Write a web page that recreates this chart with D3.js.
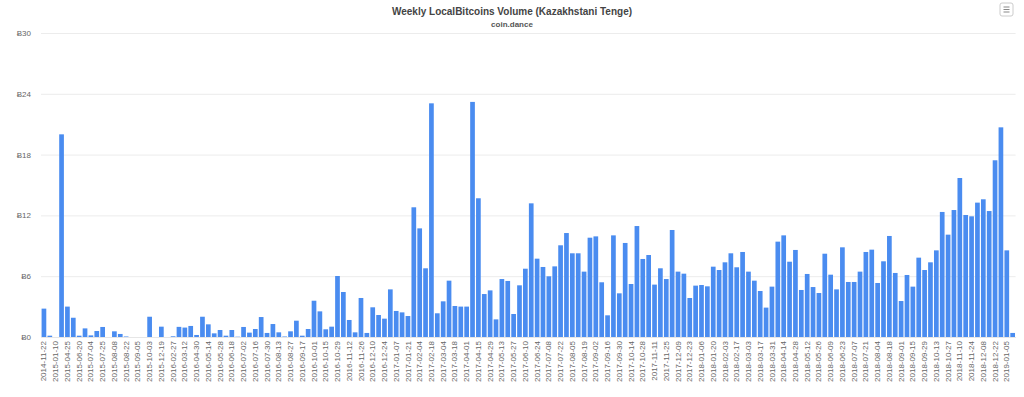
<!DOCTYPE html>
<html>
<head>
<meta charset="utf-8">
<script src="https://cdn.jsdelivr.net/npm/d3@7"></script>
<style>
  body { margin: 0; background: #fff; }
  svg { display: block; font-family: "Liberation Sans", Arial, sans-serif; }
  .axis text { fill: #666; font-size: 8px; }
</style>
</head>
<body>
<div id="chart"></div>
<script>
// weekly categories (only weeks with trades are listed)
const weeks = [
  "2014-11-22","2014-12-13","2015-01-10","2015-03-14","2015-04-25","2015-05-16","2015-06-20","2015-06-27",
  "2015-07-04","2015-07-11","2015-07-25","2015-08-01","2015-08-08","2015-08-15","2015-08-22","2015-08-29",
  "2015-09-05","2015-09-19","2015-10-03","2015-11-07","2015-12-19","2016-01-23","2016-02-27","2016-03-05",
  "2016-03-12","2016-04-02","2016-04-30","2016-05-07","2016-05-14","2016-05-21","2016-05-28","2016-06-04",
  "2016-06-18","2016-06-25","2016-07-02","2016-07-09","2016-07-16","2016-07-23","2016-07-30","2016-08-06",
  "2016-08-13","2016-08-20","2016-08-27","2016-09-10","2016-09-17","2016-09-24","2016-10-01","2016-10-08",
  "2016-10-15","2016-10-22",
  "2016-10-29","2016-11-05","2016-11-12","2016-11-19","2016-11-26","2016-12-03","2016-12-10","2016-12-17",
  "2016-12-24","2016-12-31",
  "2017-01-07","2017-01-14","2017-01-21","2017-01-28","2017-02-04","2017-02-11","2017-02-18","2017-02-25",
  "2017-03-04","2017-03-11","2017-03-18","2017-03-25","2017-04-01","2017-04-08","2017-04-15","2017-04-22",
  "2017-04-29","2017-05-06","2017-05-13","2017-05-20","2017-05-27","2017-06-03","2017-06-10","2017-06-17",
  "2017-06-24","2017-07-01","2017-07-08","2017-07-15","2017-07-22","2017-07-29","2017-08-05","2017-08-12",
  "2017-08-19","2017-08-26","2017-09-02","2017-09-09","2017-09-16","2017-09-23","2017-09-30","2017-10-07",
  "2017-10-14","2017-10-21","2017-10-28","2017-11-04","2017-11-11","2017-11-18","2017-11-25","2017-12-02",
  "2017-12-09","2017-12-16","2017-12-23","2017-12-30",
  "2018-01-06","2018-01-13","2018-01-20","2018-01-27","2018-02-03","2018-02-10","2018-02-17","2018-02-24",
  "2018-03-03","2018-03-10","2018-03-17","2018-03-24","2018-03-31","2018-04-07","2018-04-14","2018-04-21",
  "2018-04-28","2018-05-05","2018-05-12","2018-05-19","2018-05-26","2018-06-02","2018-06-09","2018-06-16",
  "2018-06-23","2018-06-30","2018-07-07","2018-07-14","2018-07-21","2018-07-28","2018-08-04","2018-08-11",
  "2018-08-18","2018-08-25","2018-09-01","2018-09-08","2018-09-15","2018-09-22","2018-09-29","2018-10-06",
  "2018-10-13","2018-10-20","2018-10-27","2018-11-03","2018-11-10","2018-11-17","2018-11-24","2018-12-01",
  "2018-12-08","2018-12-15","2018-12-22","2018-12-29",
  "2019-01-05","2019-01-12"
];

// volume per week
const volume = [
  2.8, 0.13, 0, 20.0, 3.0, 1.9, 0.13, 0.85, 0.16, 0.59, 0.99, 0, 0.56, 0.3, 0.05, 0,
  0, 0, 2.0, 0, 1.02, 0, 0.07, 1.0, 0.93, 1.09, 0.2, 2.0, 1.25, 0.36, 0.69, 0.13,
  0.69, 0.03, 0.99, 0.43, 0.79, 1.97, 0.4, 1.28, 0.46, 0.05, 0.56, 1.61, 0.13, 0.79, 3.58, 2.53,
  0.76, 1.02,
  6.02, 4.44, 1.68, 0.46, 3.85, 0.4, 2.93, 2.17, 1.81, 4.7,
  2.57, 2.43, 2.07, 12.8, 10.72, 6.78, 23.06, 2.34, 3.52, 5.56, 3.06, 3.0, 3.0, 23.2, 13.69, 4.24,
  4.6, 1.74, 5.72, 5.53, 2.27, 5.1, 6.74, 13.19, 7.73, 6.91, 5.99, 6.97, 9.05, 10.26, 8.26, 8.26,
  6.45, 9.8, 9.93, 5.4, 2.14, 10.03, 4.31, 9.28, 5.23, 10.95, 7.7, 8.09, 5.17, 6.78, 5.72, 10.56,
  6.45, 6.25, 3.85, 5.07,
  5.13, 5.0, 6.94, 6.61, 7.37, 8.26, 6.88, 8.39, 6.45, 5.56, 4.54, 2.9, 4.97, 9.41, 10.03, 7.43,
  8.59, 4.64, 6.22, 4.93, 4.34, 8.22, 6.15, 4.7, 8.85, 5.43, 5.43, 6.45, 8.39, 8.62, 5.33, 7.47,
  9.97, 6.32, 3.55, 6.12, 4.97, 7.83, 6.61, 7.37, 8.55, 12.34, 10.1, 12.53, 15.69, 12.04, 11.91, 13.26,
  13.59, 12.43, 17.44, 20.69,
  8.55, 0.4
];

const yTicks = [0, 6, 12, 18, 24, 30];
const xTicks = weeks.filter((d, i) => i % 2 === 0);

const title = "Weekly LocalBitcoins Volume (Kazakhstani Tenge)";
const subtitle = "coin.dance";

const width = 1024, height = 397;
const margin = { top: 33, right: 8.4, bottom: 60, left: 41 };

const svg = d3.select("#chart").append("svg")
  .attr("width", width)
  .attr("height", height);

const x = d3.scaleBand()
  .domain(weeks)
  .range([margin.left, width - margin.right])
  .paddingInner(0.2)
  .paddingOuter(0.1);

const y = d3.scaleLinear()
  .domain([0, 30])
  .range([height - margin.bottom, margin.top]);

// grid lines
svg.append("g")
  .selectAll("line")
  .data(yTicks)
  .join("line")
  .attr("x1", margin.left)
  .attr("x2", width - margin.right)
  .attr("y1", d => y(d) + 0.5)
  .attr("y2", d => y(d) + 0.5)
  .attr("stroke", "#ececec")
  .attr("stroke-width", 1);

// y axis labels
const yAxis = d3.axisLeft(y)
  .tickValues(yTicks)
  .tickSize(0)
  .tickPadding(10)
  .tickFormat(d => "Ƀ" + d);
svg.append("g")
  .attr("class", "axis")
  .attr("transform", `translate(${margin.left},0)`)
  .call(yAxis)
  .call(g => g.select(".domain").remove());

// bars
svg.append("g")
  .selectAll("rect")
  .data(volume)
  .join("rect")
  .attr("x", (d, i) => x(weeks[i]))
  .attr("y", d => y(d))
  .attr("width", x.bandwidth())
  .attr("height", d => y(0) - y(d))
  .attr("fill", "#4a8cf0");

// x axis
const xAxis = d3.axisBottom(x)
  .tickValues(xTicks)
  .tickSize(0)
  .tickPadding(4);
svg.append("g")
  .attr("class", "axis")
  .attr("transform", `translate(0,${height - margin.bottom})`)
  .call(xAxis)
  .call(g => g.select(".domain").attr("stroke", "#e6e6e6"))
  .selectAll("text")
  .attr("transform", "rotate(-90)")
  .attr("text-anchor", "end")
  .attr("dy", "0.32em")
  .attr("x", -4)
  .attr("y", 0);

// titles
svg.append("text")
  .attr("x", width / 2)
  .attr("y", 15)
  .attr("text-anchor", "middle")
  .style("font-size", "10px")
  .style("font-weight", "bold")
  .style("fill", "#444")
  .text(title);

svg.append("text")
  .attr("x", width / 2)
  .attr("y", 27)
  .attr("text-anchor", "middle")
  .style("font-size", "8px")
  .style("font-weight", "bold")
  .style("fill", "#555")
  .text(subtitle);

// context menu button
const menu = svg.append("g").attr("transform", "translate(1000,3)");
menu.append("rect")
  .attr("width", 13).attr("height", 13).attr("rx", 2)
  .attr("fill", "#fff").attr("stroke", "#ccc");
menu.selectAll("line")
  .data([4, 6.5, 9])
  .join("line")
  .attr("x1", 3.5).attr("x2", 9.5)
  .attr("y1", d => d).attr("y2", d => d)
  .attr("stroke", "#888").attr("stroke-width", 1);
</script>
</body>
</html>
